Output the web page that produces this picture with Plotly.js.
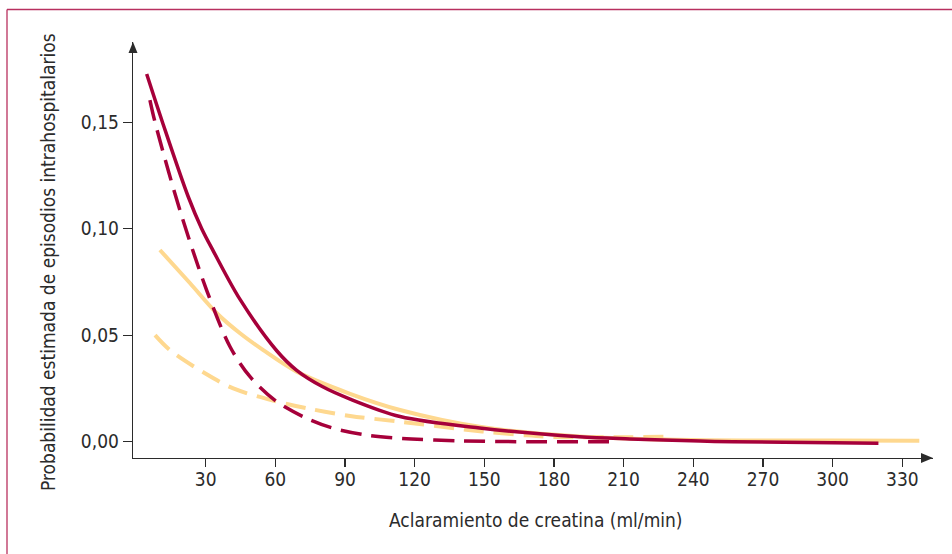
<!DOCTYPE html>
<html>
<head>
<meta charset="utf-8">
<script src="https://cdn.plot.ly/plotly-3.0.1.min.js"></script>
<style>html,body{margin:0;padding:0;background:#fff;}#chart{width:952px;height:554px;}</style>
</head>
<body>
<div id="chart"></div>
<script>
// ---- data ----
var solidRedX = [4.6, 11.4, 22.5, 28.3, 33.3, 44.8, 60.6, 69.2, 80, 92.2, 113.7, 148, 191, 212.7, 243, 257, 300, 319.7];
var solidRedY = [0.1726, 0.150, 0.115, 0.100, 0.0895, 0.0668, 0.0427, 0.0335, 0.026, 0.0200, 0.0118, 0.0064, 0.0023, 0.0013, 0.0003, 0.0, -0.0005, -0.0007];

var solidYellowX = [10.3, 23.3, 34.8, 44.8, 54.8, 69.2, 92.2, 113.7, 148, 191, 240, 300, 337.3];
var solidYellowY = [0.090, 0.0744, 0.0603, 0.0509, 0.043, 0.0329, 0.0225, 0.0149, 0.0070, 0.0025, 0.0008, 0.0006, 0.0005];

var dashRedX = [6.0, 8.2, 18.9, 30.4, 40.5, 49.1, 60.6, 73.5, 85, 99.4, 113.7, 140, 168, 207];
var dashRedY = [0.1604, 0.150, 0.1087, 0.0712, 0.0446, 0.0305, 0.0188, 0.011, 0.0063, 0.0031, 0.0016, 0.0004, 0.0, 0.0];

var dashYellowX = [8.2, 14.6, 29.7, 41.9, 59.1, 74.9, 92.2, 113.7, 141, 152, 168, 181, 209, 228];
var dashYellowY = [0.050, 0.043, 0.0321, 0.025, 0.0193, 0.0154, 0.0121, 0.0094, 0.0058, 0.0045, 0.003, 0.0022, 0.0021, 0.0023];

var xTickVals = [30, 60, 90, 120, 150, 180, 210, 240, 270, 300, 330];
var xTickText = ['30', '60', '90', '120', '150', '180', '210', '240', '270', '300', '330'];
var yTickVals = [0, 0.05, 0.10, 0.15];
var yTickText = ['0,00', '0,05', '0,10', '0,15'];

var xTitle = 'Aclaramiento de creatina (ml/min)';
var yTitle = 'Probabilidad estimada de episodios intrahospitalarios';

// ---- styling ----
var RED = '#a6003a';
var YELLOW = '#fed88f';
var AXIS = '#2b2b2b';
var TEXT = '#2b2b2b';
var FONT = '"DejaVu Sans Condensed", "Liberation Sans Narrow", Arial, sans-serif';

var W = 952, H = 554, ML = 133, MR = 19, MT = 42, MB = 96;
var PW = W - ML - MR, PH = H - MT - MB;
function px2x(px) { return (px - ML) / PW; }
function px2y(py) { return (H - MB - py) / PH; }

function trace(x, y, color, width, dash) {
  return {
    x: x, y: y, type: 'scatter', mode: 'lines',
    line: {color: color, width: width, dash: dash, shape: 'spline', smoothing: 0.9},
    hoverinfo: 'skip', showlegend: false
  };
}

var data = [
  trace(solidYellowX, solidYellowY, YELLOW, 4, 'solid'),
  trace(dashYellowX, dashYellowY, YELLOW, 4, '20px,10px'),
  trace(dashRedX, dashRedY, RED, 3.5, '21px,10px'),
  trace(solidRedX, solidRedY, RED, 3.5, 'solid')
];

var layout = {
  width: W, height: H,
  margin: {l: ML, r: MR, t: MT, b: MB, pad: 0},
  paper_bgcolor: '#ffffff', plot_bgcolor: '#ffffff',
  font: {family: FONT, size: 19, color: TEXT},
  showlegend: false,
  xaxis: {
    range: [-1.29, 343.2], showgrid: false, zeroline: false,
    showline: true, linecolor: AXIS, linewidth: 1.3,
    ticks: 'outside', ticklen: 8, tickwidth: 1.3, tickcolor: AXIS,
    tickvals: xTickVals, ticktext: xTickText, ticklabelstandoff: -4,
    tickfont: {family: FONT, size: 19, color: TEXT}
  },
  yaxis: {
    range: [-0.00765, 0.18765], showgrid: false, zeroline: false,
    showline: true, linecolor: AXIS, linewidth: 1.3,
    ticks: 'outside', ticklen: 9, tickwidth: 1.3, tickcolor: AXIS,
    tickvals: yTickVals, ticktext: yTickText,
    tickfont: {family: FONT, size: 19, color: TEXT}
  },
  annotations: [
    {text: xTitle, xref: 'paper', yref: 'paper', x: px2x(536), y: px2y(520),
     xanchor: 'center', yanchor: 'middle', showarrow: false,
     font: {family: FONT, size: 19, color: TEXT}},
    {text: yTitle, xref: 'paper', yref: 'paper', x: px2x(48), y: px2y(262),
     xanchor: 'center', yanchor: 'middle', showarrow: false, textangle: -90,
     font: {family: FONT, size: 19, color: TEXT}}
  ],
  shapes: [
    {type: 'path', xref: 'paper', yref: 'paper', xsizemode: 'pixel', ysizemode: 'pixel',
     xanchor: 1, yanchor: 0, path: 'M 0 0 L -12 5 L -12 -5 Z',
     fillcolor: AXIS, line: {width: 0}},
    {type: 'path', xref: 'paper', yref: 'paper', xsizemode: 'pixel', ysizemode: 'pixel',
     xanchor: 0, yanchor: 1, path: 'M 0 0 L -4.5 -11 L 4.5 -11 Z',
     fillcolor: AXIS, line: {width: 0}},
    {type: 'line', xref: 'paper', yref: 'paper', x0: px2x(7), x1: px2x(960), y0: px2y(9.5), y1: px2y(9.5),
     line: {color: '#b8305f', width: 1.3}},
    {type: 'line', xref: 'paper', yref: 'paper', x0: px2x(7), x1: px2x(7), y0: px2y(9.5), y1: px2y(560),
     line: {color: '#b8305f', width: 1.3}}
  ]
};

Plotly.newPlot('chart', data, layout, {staticPlot: true, displayModeBar: false});
</script>
</body>
</html>
